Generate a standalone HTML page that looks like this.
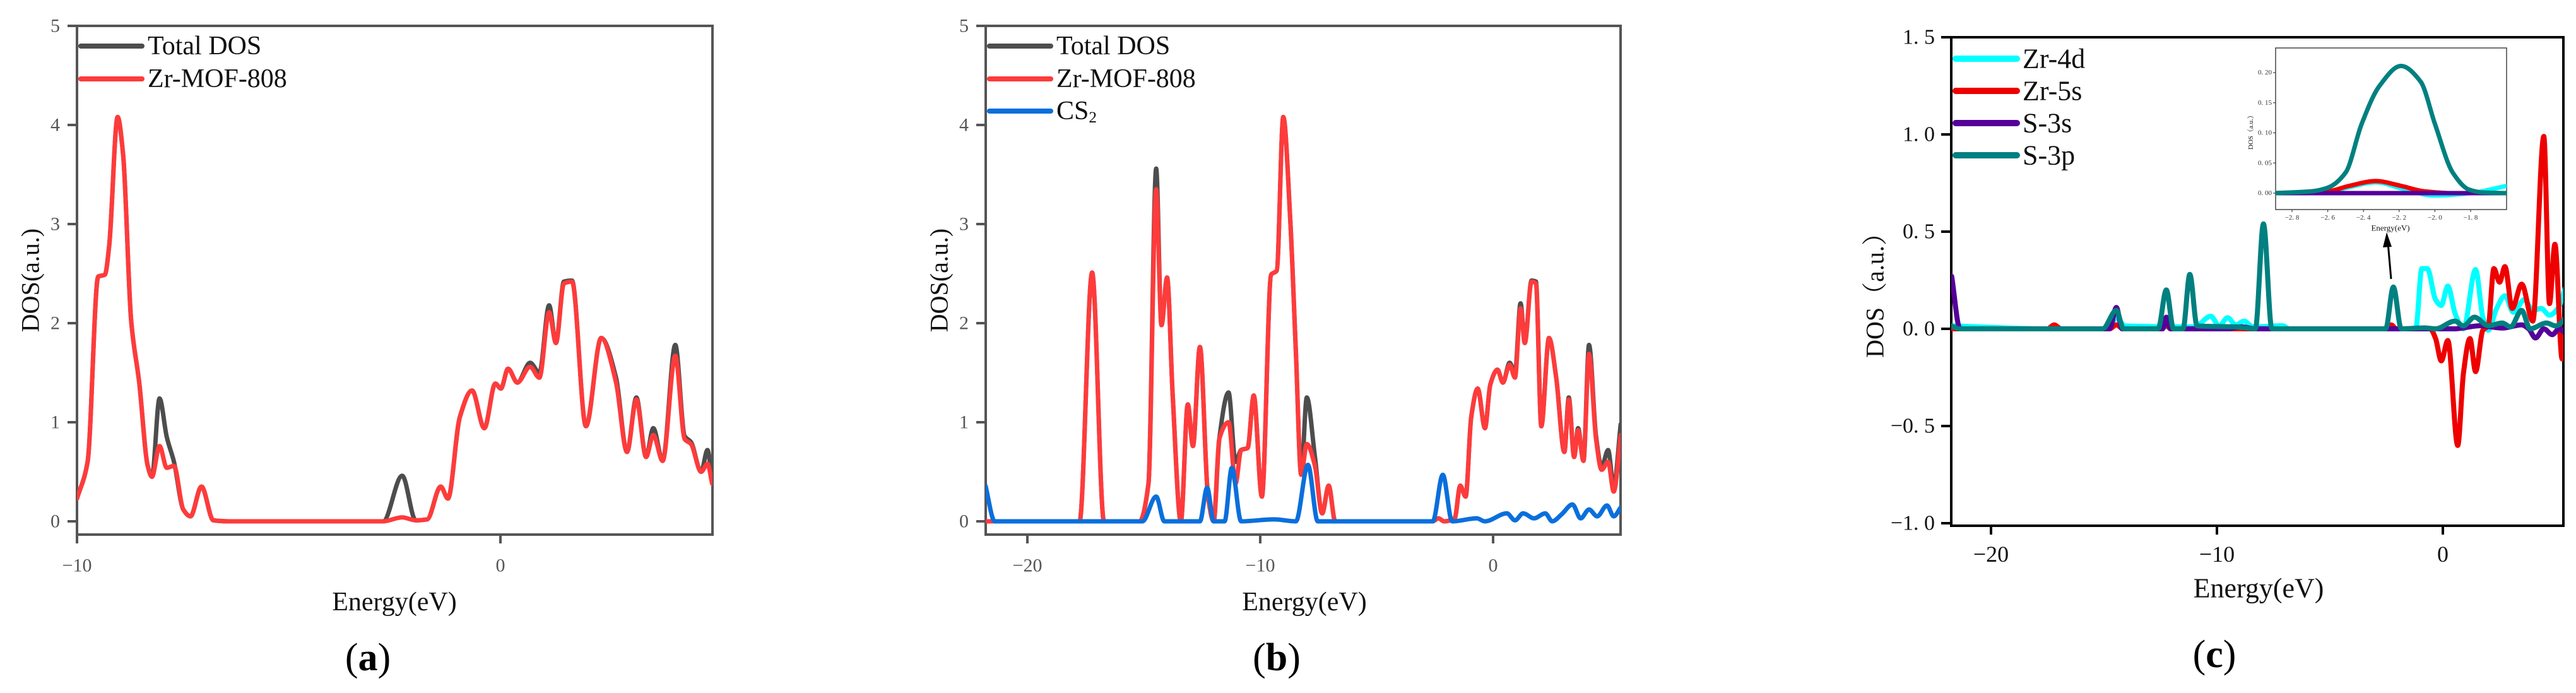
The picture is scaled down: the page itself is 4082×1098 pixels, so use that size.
<!DOCTYPE html>
<html><head><meta charset="utf-8"><style>
html,body{margin:0;padding:0;background:#fff;}
svg{display:block;font-family:"Liberation Serif",serif;}
</style></head><body>
<svg id="fig" width="4082" height="1098" viewBox="0 0 4082 1098" xmlns="http://www.w3.org/2000/svg">
<defs>
<clipPath id="clipA"><rect x="122" y="41" width="1007" height="806"/></clipPath>
<clipPath id="clipB"><rect x="1562" y="41" width="1006" height="806"/></clipPath>
<clipPath id="clipC"><rect x="3092" y="59" width="970" height="774"/></clipPath>
<clipPath id="clipI"><rect x="3606" y="76" width="366" height="256"/></clipPath>
</defs>
<g id="root"></g>
</svg>
<script>
// ---------- Panel (a) data ----------
const aE = [-10,-9.75,-9.5,-9.34,-9.24,-9.04,-8.91,-8.72,-8.53,-8.33,-8.23,-8.05,-7.88,-7.71,-7.49,-7.32,-7.06,-6.78,-6.39,-2.77,-2.32,-2.0,-1.73,-1.41,-1.24,-0.96,-0.67,-0.38,-0.12,0.01,0.18,0.40,0.70,0.92,1.15,1.31,1.5,1.69,2.02,2.38,2.73,2.99,3.21,3.44,3.61,3.83,4.13,4.35,4.5,4.74,4.89,5.0];
const aTotal = [0.23,0.6,2.47,2.49,2.78,4.08,3.7,2.02,1.4,0.56,0.45,1.24,0.85,0.6,0.12,0.05,0.35,0.01,0,0,0.46,0.01,0.02,0.35,0.23,1.05,1.32,0.94,1.39,1.34,1.54,1.4,1.6,1.5,2.18,1.8,2.42,2.43,0.96,1.85,1.45,0.7,1.25,0.65,0.94,0.61,1.78,0.86,0.8,0.5,0.72,0.4];
const aZr = [0.23,0.6,2.47,2.49,2.78,4.08,3.7,2.02,1.4,0.56,0.45,0.76,0.54,0.56,0.12,0.05,0.35,0.01,0,0,0.04,0.01,0.02,0.35,0.23,1.05,1.32,0.94,1.39,1.34,1.54,1.4,1.56,1.45,2.11,1.8,2.4,2.42,0.96,1.85,1.4,0.7,1.23,0.65,0.87,0.61,1.67,0.83,0.78,0.5,0.58,0.38];
const aXTicks = [-10, 0];
const abYTicks = [0,1,2,3,4,5];
// ---------- Panel (b) data ----------
const bE = [-21.8,-17.76,-17.22,-16.71,-15.18,-14.8,-14.47,-14.24,-14.0,-13.76,-13.41,-13.11,-12.89,-12.59,-12.24,-12.0,-11.76,-11.36,-11.06,-10.82,-10.54,-10.28,-9.93,-9.53,-9.29,-9.01,-8.71,-8.47,-8.24,-8.0,-7.65,-7.34,-7.06,-6.78,-2.6,-2.35,-2.1,-1.65,-1.41,-1.18,-0.94,-0.66,-0.35,-0.12,0.19,0.42,0.71,0.94,1.18,1.36,1.65,1.84,2.07,2.4,2.71,3.06,3.25,3.48,3.65,3.88,4.12,4.42,4.66,4.94,5.18,5.48];
const bTotal = [0,0,2.51,0,0,0.38,3.56,1.98,2.46,1.27,0,1.18,0.76,1.76,0.25,0,0.83,1.3,0.6,0.72,0.74,1.27,0.25,2.49,2.53,4.08,3.04,1.71,0.47,1.25,0.65,0.08,0.36,0,0,0.03,0,0.03,0.36,0.25,1.05,1.34,0.94,1.38,1.53,1.4,1.6,1.5,2.2,1.8,2.43,2.42,0.96,1.85,1.45,0.7,1.25,0.65,0.94,0.61,1.78,0.86,0.55,0.72,0.35,0.98];
const bZr = [0,0,2.51,0,0,0.38,3.35,1.98,2.46,1.27,0,1.18,0.76,1.76,0.25,0,0.83,1.0,0.38,0.72,0.74,1.27,0.25,2.49,2.53,4.08,3.04,1.71,0.47,0.78,0.56,0.08,0.36,0,0,0.03,0,0.03,0.36,0.25,1.05,1.34,0.94,1.38,1.53,1.4,1.58,1.45,2.15,1.8,2.42,2.4,0.96,1.85,1.45,0.7,1.23,0.65,0.92,0.61,1.69,0.83,0.52,0.6,0.3,0.87];
const bCsE = [-21.8,-21.4,-15.06,-14.47,-14.12,-12.59,-12.28,-12.0,-11.53,-11.22,-10.82,-9.41,-8.47,-7.95,-7.53,-2.59,-2.16,-1.76,-0.7,-0.35,0.59,0.94,1.29,1.76,2.24,2.54,2.94,3.41,3.76,4.12,4.47,4.89,5.18,5.48];
const bCs = [0.36,0,0,0.25,0,0,0.34,0,0,0.54,0,0.02,0,0.57,0,0,0.47,0,0.03,0,0.08,0.01,0.08,0.03,0.08,0,0.07,0.17,0.03,0.12,0.05,0.16,0.05,0.14];
const bcXTicks = [-20,-10,0];
// ---------- Panel (c) data ----------
const cDE = [-21.74,-17.5,-17.2,-16.9,-14.75,-14.45,-14.08,-11.0,-10.27,-9.9,-9.53,-9.16,-8.8,-8.4,-7.08,-6.8,-1.2,-0.93,-0.69,-0.32,-0.07,0.22,0.54,0.91,1.45,1.77,2.01,2.38,2.75,3.12,3.61,3.98,4.35,4.72,5.09,5.48];
const cZr4d = [0.015,0,0.02,0,0,0.06,0.015,0.01,0.065,0.015,0.057,0.02,0.04,0.01,0.016,0,0,0.31,0.31,0.15,0.12,0.22,0.08,0,0.305,0.06,-0.007,0.105,0.17,0.085,0.15,0.095,0.105,0.07,0.105,0.23];
const cRE = [-21.74,-17.5,-17.2,-16.9,-14.75,-14.45,-14.15,-12.45,-12.24,-12.05,-2.55,-2.29,-2.05,-0.57,-0.32,-0.07,0.22,0.66,0.91,1.2,1.45,1.77,2.01,2.26,2.51,2.75,3.07,3.49,3.98,4.47,4.72,4.96,5.28,5.48];
const cZr5s = [0,0,0.02,0,0,0.02,0,0,0.02,0,0,0.02,0,0,-0.05,-0.165,-0.06,-0.6,-0.23,-0.05,-0.22,-0.007,0.016,0.31,0.24,0.32,0.105,0.23,0.04,0.99,0.13,0.435,-0.155,0.06];
const cSE = [-21.74,-21.37,-14.75,-14.45,-14.2,-12.4,-12.24,-12.05,-9.5,-8.9,-8.3,0.5,1.65,2.63,3.49,3.8,4.1,4.47,4.84,5.15,5.48];
const cS3s = [0.27,0,0,0.11,0,0,0.06,0,0,0.01,0,0,0.016,0.004,0.02,0,-0.047,0,-0.03,0,-0.03];
const cPE = [-21.74,-21.4,-15.06,-14.45,-14.13,-12.6,-12.24,-11.92,-11.5,-11.2,-10.88,-9.16,-8.3,-7.94,-7.57,-2.53,-2.19,-1.84,-0.81,-0.32,0.54,0.91,1.4,2.01,2.63,3.0,3.49,3.86,4.59,5.0,5.48];
const cS3p = [0.015,0,0,0.095,0,0,0.2,0,0,0.28,0.015,0.01,0,0.54,0,0,0.215,0,0.005,0,0.04,0.015,0.06,0.016,0.03,0.01,0.095,0,0.03,0.015,0.06];
const cYTicks = [-1.0,-0.5,0.0,0.5,1.0,1.5];
const cYLabels = ["\u22121. 0","\u22120. 5","0. 0","0. 5","1. 0","1. 5"];
// ---------- Inset data ----------
const iPE = [-2.894,-2.69,-2.6,-2.5,-2.41,-2.31,-2.19,-2.08,-2.0,-1.9,-1.81,-1.73,-1.6];
const iS3p = [0,0.003,0.009,0.034,0.115,0.178,0.211,0.185,0.115,0.034,0.006,0.001,0];
const iRE = [-2.894,-2.6,-2.48,-2.33,-2.19,-2.06,-1.9,-1.6];
const iZr5s = [0,0.003,0.012,0.02,0.012,0.003,0,0];
const iDE = [-2.894,-2.6,-2.48,-2.33,-2.19,-2.0,-1.8,-1.6];
const iZr4d = [0,0.002,0.01,0.018,0.008,-0.004,0,0.012];
const iSE = [-2.894,-1.6];
const iS3s = [0,0];
const iXTicks = [-2.8,-2.6,-2.4,-2.2,-2.0,-1.8];
const iYTicks = [0,0.05,0.10,0.15,0.20];

const NS = "http://www.w3.org/2000/svg";
const root = document.getElementById('root');
function mk(tag, attrs, parent){ const e=document.createElementNS(NS,tag); for(const k in attrs) e.setAttribute(k,attrs[k]); (parent||root).appendChild(e); return e; }
function lin(d0,d1,r0,r1){ return v => r0 + (v-d0)*(r1-r0)/(d1-d0); }
function monoPath(xs, ys){
  const n=xs.length; if(n<2) return '';
  const h=[], m=[];
  for(let i=0;i<n-1;i++){ h.push(xs[i+1]-xs[i]); m.push((ys[i+1]-ys[i])/(xs[i+1]-xs[i])); }
  const t=new Array(n);
  t[0]=m[0]; t[n-1]=m[n-2];
  for(let i=1;i<n-1;i++){
    if(m[i-1]*m[i]<=0) t[i]=0;
    else t[i]=3*(h[i-1]+h[i])/((2*h[i]+h[i-1])/m[i-1]+(h[i]+2*h[i-1])/m[i]);
  }
  let d='M'+xs[0].toFixed(1)+','+ys[0].toFixed(1);
  for(let i=0;i<n-1;i++){
    const hh=h[i]/3;
    d+=' C'+(xs[i]+hh).toFixed(1)+','+(ys[i]+t[i]*hh).toFixed(1)+' '+(xs[i+1]-hh).toFixed(1)+','+(ys[i+1]-t[i+1]*hh).toFixed(1)+' '+xs[i+1].toFixed(1)+','+ys[i+1].toFixed(1);
  }
  return d;
}
function series(E, V, sx, sy, color, w, clip, name){
  const p = mk('path',{d:monoPath(E.map(sx),V.map(sy)),fill:'none',stroke:color,'stroke-width':w,'stroke-linejoin':'round','stroke-linecap':'round','clip-path':'url(#'+clip+')'});
  
  
  return p;
}
function text(x,y,str,size,opts){
  const t = mk('text',Object.assign({x:x,y:y,'font-size':size,'dominant-baseline':'central'},opts||{}));
  t.textContent=str; return t;
}
function legend(x0,x1,y,color,label,w,tx,size,name,sub){
  const g=mk('g',{});
  
  
  mk('line',{x1:x0,y1:y,x2:x1,y2:y,stroke:color,'stroke-width':w,'stroke-linecap':'round'},g);
  const t=mk('text',{x:tx,y:y,'font-size':size,'dominant-baseline':'central',fill:'#111'},g);
  t.textContent=label;
  if(sub){ const s=mk('tspan',{'font-size':size*0.6,dy:10},t); s.textContent=sub; }
}

// ====== Panel (a) ======
(function(){
  const L=122,R=1129,T=41,B=847;
  const sx=lin(-10,0,122,793), sy=lin(0,5,826,41);
  const g=mk('g',{});  
  const fr=mk('rect',{x:L,y:T,width:R-L,height:B-T,fill:'none',stroke:'#555','stroke-width':4});
   
  abYTicks.forEach(v=>{ mk('line',{x1:L-15,y1:sy(v),x2:L,y2:sy(v),stroke:'#555','stroke-width':4});
    const t=text(L-27,sy(v),String(v),30,{'text-anchor':'end',fill:'#555'});   });
  aXTicks.forEach(v=>{ mk('line',{x1:sx(v),y1:B,x2:sx(v),y2:B+14,stroke:'#555','stroke-width':4});
    const t=text(sx(v),896,v<0?'\u2212'+(-v):String(v),30,{'text-anchor':'middle',fill:'#555'});   });
  series(aE,aTotal,sx,sy,'#4d4d4d',7,'clipA','total-dos-line-a');
  series(aE,aZr,sx,sy,'#ff3b3b',7,'clipA','zr-mof-808-line-a');
  legend(128,225,73,'#4d4d4d','Total DOS',8,234,42,'legend-total-dos-a');
  legend(128,225,125,'#ff3b3b','Zr-MOF-808',8,234,42,'legend-zr-mof-808-a');
  const xl=text(625,954,'Energy(eV)',42,{'text-anchor':'middle',fill:'#111'});  
  const yl=text(48,444,'DOS(a.u.)',40,{'text-anchor':'middle',fill:'#111',transform:'rotate(-90 48 444)'});  
})();

// ====== Panel (b) ======
(function(){
  const L=1562,R=2568,T=41,B=847;
  const sx=lin(-20,0,1628,2366), sy=lin(0,5,826,41);
  const fr=mk('rect',{x:L,y:T,width:R-L,height:B-T,fill:'none',stroke:'#555','stroke-width':4});
   
  abYTicks.forEach(v=>{ mk('line',{x1:L-15,y1:sy(v),x2:L,y2:sy(v),stroke:'#555','stroke-width':4});
    const t=text(L-27,sy(v),String(v),30,{'text-anchor':'end',fill:'#555'});   });
  bcXTicks.forEach(v=>{ mk('line',{x1:sx(v),y1:B,x2:sx(v),y2:B+14,stroke:'#555','stroke-width':4});
    const t=text(sx(v),896,v<0?'\u2212'+(-v):String(v),30,{'text-anchor':'middle',fill:'#555'});   });
  series(bE,bTotal,sx,sy,'#4d4d4d',7,'clipB','total-dos-line-b');
  series(bE,bZr,sx,sy,'#ff3b3b',7,'clipB','zr-mof-808-line-b');
  series(bCsE,bCs,sx,sy,'#0a6fdc',7,'clipB','cs2-line-b');
  legend(1568,1665,73,'#4d4d4d','Total DOS',8,1674,42,'legend-total-dos-b');
  legend(1568,1665,125,'#ff3b3b','Zr-MOF-808',8,1674,42,'legend-zr-mof-808-b');
  legend(1568,1665,176,'#0a6fdc','CS',8,1674,42,'legend-cs2-b','2');
  const xl=text(2067,954,'Energy(eV)',42,{'text-anchor':'middle',fill:'#111'});  
  const yl=text(1488,444,'DOS(a.u.)',40,{'text-anchor':'middle',fill:'#111',transform:'rotate(-90 1488 444)'});  
})();

// ====== Panel (c) ======
(function(){
  const L=3092,R=4062,T=59,B=833;
  const sx=lin(-20,0,3155,3871), sy=lin(0,1.5,521,59);
  const fr=mk('rect',{x:L,y:T,width:R-L,height:B-T,fill:'none',stroke:'#000','stroke-width':4});
   
  cYTicks.forEach((v,i)=>{ mk('line',{x1:L-16,y1:sy(v),x2:L,y2:sy(v),stroke:'#000','stroke-width':4});
    const t=text(3066,sy(v),cYLabels[i],34,{'text-anchor':'end',fill:'#111'});   });
  bcXTicks.forEach(v=>{ mk('line',{x1:sx(v),y1:B,x2:sx(v),y2:B+14,stroke:'#000','stroke-width':4});
    const t=text(sx(v),878,v<0?'\u2212'+(-v):String(v),36,{'text-anchor':'middle',fill:'#111'});   });
  series(cDE,cZr4d,sx,sy,'#00ffff',8,'clipC','zr-4d-line');
  series(cRE,cZr5s,sx,sy,'#ee0000',8,'clipC','zr-5s-line');
  series(cSE,cS3s,sx,sy,'#550099',8,'clipC','s-3s-line');
  series(cPE,cS3p,sx,sy,'#008080',8,'clipC','s-3p-line');
  legend(3099,3196,93,'#00ffff','Zr-4d',10,3205,44,'legend-zr-4d');
  legend(3099,3196,144,'#ee0000','Zr-5s',10,3205,44,'legend-zr-5s');
  legend(3099,3196,195,'#550099','S-3s',10,3205,44,'legend-s-3s');
  legend(3099,3196,246,'#008080','S-3p',10,3205,44,'legend-s-3p');
  const xl=text(3579,932,'Energy(eV)',44,{'text-anchor':'middle',fill:'#111'});  
  const yl=text(2971,458,'DOS\uFF08a.u.\uFF09',40,{'text-anchor':'middle',fill:'#111',transform:'rotate(-90 2971 458)','font-family':'"Liberation Serif","Noto Serif CJK SC",serif'});  

  // inset
  const iL=3606,iR=3972,iT=76,iB=332;
  const ix=lin(-2.8,-1.8,3632,3915), iy=lin(0,0.2,306,115);
  const ib=mk('rect',{x:iL,y:iT,width:iR-iL,height:iB-iT,fill:'#fff',stroke:'#444','stroke-width':1.5});
   
  iYTicks.forEach(v=>{ mk('line',{x1:iL-4,y1:iy(v),x2:iL,y2:iy(v),stroke:'#444','stroke-width':1.2});
    const t=text(iL-6,iy(v),v.toFixed(2).replace('.', '. '),11,{'text-anchor':'end',fill:'#333'});   });
  iXTicks.forEach(v=>{ mk('line',{x1:ix(v),y1:iB,x2:ix(v),y2:iB+4,stroke:'#444','stroke-width':1.2});
    const t=text(ix(v),345,'\u2212'+(-v).toFixed(1).replace('.', '. '),11,{'text-anchor':'middle',fill:'#333'});   });
  series(iDE,iZr4d,ix,iy,'#00ffff',7,'clipI','inset-zr-4d-line');
  series(iRE,iZr5s,ix,iy,'#ee0000',7,'clipI','inset-zr-5s-line');
  series(iSE,iS3s,ix,iy,'#550099',7,'clipI','inset-s-3s-line');
  series(iPE,iS3p,ix,iy,'#008080',7,'clipI','inset-s-3p-line');
  const ixl=text(3788,361,'Energy(eV)',13,{'text-anchor':'middle',fill:'#111'});  
  const iyl=text(3567,207,'DOS\uFF08a.u.\uFF09',11,{'text-anchor':'middle',fill:'#111',transform:'rotate(-90 3567 207)','font-family':'"Liberation Serif","Noto Serif CJK SC",serif'});  
  const ar=mk('g',{});  
  mk('line',{x1:3789,y1:442,x2:3784,y2:385,stroke:'#000','stroke-width':3},ar);
  mk('polygon',{points:'3782,368 3776,392 3790,391',fill:'#000'},ar);
})();

// sub-figure labels
[[583,1042,'a','subfigure-label-a'],[2023,1042,'b','subfigure-label-b'],[3509,1037,'c','subfigure-label-c']].forEach(s=>{
  const t=mk('text',{x:s[0],y:s[1],'font-size':62,'text-anchor':'middle','dominant-baseline':'central',fill:'#000'});
  
  
  const a=mk('tspan',{},t); a.textContent='(';
  const b=mk('tspan',{'font-weight':'bold'},t); b.textContent=s[2];
  const c=mk('tspan',{},t); c.textContent=')';
});
</script>
</body></html>
